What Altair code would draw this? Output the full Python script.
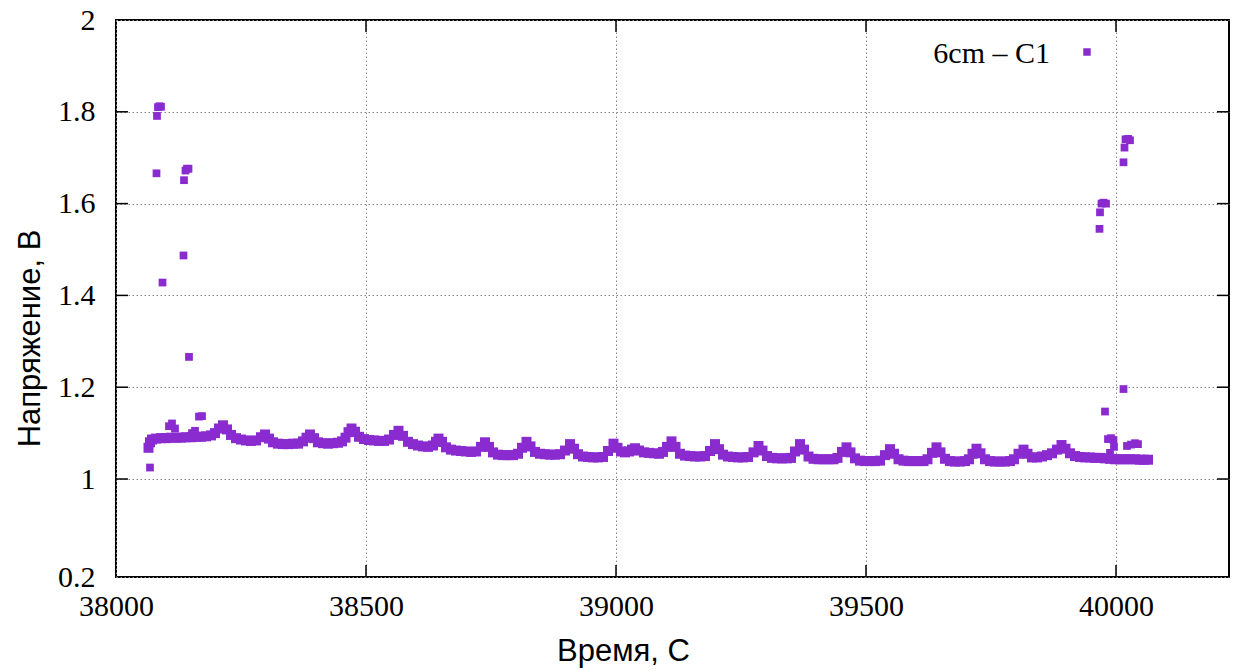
import altair as alt
import pandas as pd

# ---- data ----
T_MAIN = [38065, 38068, 38072, 38080, 38090, 38100, 38110, 38120, 38130, 38140, 38150, 38160, 38170, 38180, 38190,
          38198, 38206, 38214, 38222, 38230, 38240, 38250, 38260, 38270, 38280, 38290, 38298, 38306, 38314, 38324,
          38334, 38344, 38354, 38364, 38374, 38381, 38388, 38396, 38404, 38414, 38424, 38434, 38444, 38452, 38459,
          38465, 38471, 38478, 38486, 38496, 38506, 38516, 38526, 38536, 38546, 38556, 38565, 38574, 38584, 38594,
          38604, 38614, 38624, 38634, 38640, 38645, 38652, 38660, 38670, 38680, 38690, 38700, 38710, 38720, 38730,
          38738, 38746, 38754, 38764, 38774, 38784, 38794, 38804, 38812, 38821, 38829, 38838, 38848, 38858, 38868,
          38878, 38888, 38898, 38908, 38916, 38924, 38934, 38944, 38954, 38964, 38974, 38984, 38995, 39003, 39010,
          39018, 39026, 39032, 39038, 39046, 39056, 39066, 39076, 39086, 39094, 39102, 39111, 39119, 39128, 39138,
          39148, 39158, 39168, 39178, 39188, 39198, 39206, 39214, 39224, 39234, 39244, 39254, 39264, 39275, 39285,
          39293, 39302, 39312, 39322, 39332, 39342, 39350, 39358, 39368, 39376, 39385, 39395, 39405, 39415, 39425,
          39435, 39443, 39452, 39461, 39469, 39478, 39488, 39498, 39508, 39518, 39528, 39538, 39548, 39556, 39565,
          39575, 39585, 39595, 39605, 39615, 39623, 39632, 39641, 39649, 39658, 39668, 39678, 39688, 39698, 39706,
          39713, 39721, 39729, 39738, 39748, 39758, 39768, 39778, 39788, 39796, 39805, 39815, 39823, 39832, 39842,
          39852, 39862, 39872, 39882, 39891, 39899, 39908, 39918, 39928, 39938, 39948, 39958, 39968, 39978, 39988,
          39998, 40008, 40018, 40028, 40038, 40048, 40056, 40064]
V_MAIN = [1.068, 1.080, 1.086, 1.088, 1.089, 1.089, 1.090, 1.090, 1.090, 1.091, 1.091, 1.092, 1.092, 1.093, 1.095,
          1.100, 1.110, 1.117, 1.108, 1.096, 1.089, 1.086, 1.084, 1.083, 1.084, 1.091, 1.097, 1.088, 1.080, 1.077,
          1.076, 1.076, 1.077, 1.077, 1.082, 1.090, 1.097, 1.089, 1.080, 1.078, 1.077, 1.078, 1.079, 1.082, 1.090,
          1.102, 1.110, 1.103, 1.092, 1.087, 1.085, 1.084, 1.083, 1.083, 1.086, 1.096, 1.105, 1.094, 1.081, 1.076,
          1.073, 1.071, 1.070, 1.073, 1.081, 1.088, 1.081, 1.069, 1.064, 1.062, 1.061, 1.060, 1.059, 1.060, 1.070,
          1.080, 1.070, 1.058, 1.053, 1.052, 1.052, 1.052, 1.055, 1.068, 1.081, 1.071, 1.059, 1.055, 1.054, 1.053,
          1.053, 1.054, 1.062, 1.076, 1.066, 1.054, 1.049, 1.048, 1.047, 1.047, 1.048, 1.061, 1.077, 1.068, 1.060,
          1.058, 1.060, 1.064, 1.067, 1.062, 1.058, 1.057, 1.056, 1.055, 1.059, 1.070, 1.082, 1.070, 1.055, 1.051,
          1.050, 1.049, 1.049, 1.050, 1.061, 1.076, 1.065, 1.053, 1.049, 1.048, 1.047, 1.047, 1.048, 1.058, 1.072,
          1.062, 1.050, 1.046, 1.045, 1.045, 1.045, 1.046, 1.060, 1.076, 1.064, 1.049, 1.044, 1.043, 1.043, 1.043,
          1.043, 1.046, 1.059, 1.069, 1.058, 1.045, 1.040, 1.039, 1.039, 1.039, 1.040, 1.052, 1.065, 1.055, 1.043,
          1.040, 1.039, 1.039, 1.039, 1.039, 1.043, 1.057, 1.069, 1.058, 1.044, 1.039, 1.038, 1.038, 1.039, 1.043,
          1.055, 1.066, 1.056, 1.043, 1.039, 1.038, 1.038, 1.038, 1.039, 1.043, 1.055, 1.064, 1.055, 1.047, 1.047,
          1.049, 1.052, 1.056, 1.064, 1.074, 1.066, 1.056, 1.050, 1.048, 1.047, 1.047, 1.046, 1.046, 1.045, 1.044,
          1.043, 1.043, 1.043, 1.043, 1.043, 1.042, 1.042, 1.042]

T_SPIKE = [38068, 38081, 38082, 38084, 38087, 38090, 38093, 38106, 38112, 38118, 38135, 38136, 38139, 38142,
           38145, 38146, 38152, 38158, 38166, 38172,
           39967, 39968, 39971, 39975, 39978, 39980, 39984, 39988, 39990, 39995, 39996, 40015, 40015, 40017,
           40019, 40024, 40028, 40022, 40030, 40038, 40044]
V_SPIKE = [1.025, 1.666, 1.791, 1.810, 1.812, 1.811, 1.428, 1.115, 1.121, 1.110, 1.487, 1.651, 1.672, 1.676,
           1.676, 1.266, 1.100, 1.105, 1.136, 1.137,
           1.545, 1.581, 1.600, 1.602, 1.147, 1.600, 1.087, 1.057, 1.089, 1.085, 1.070, 1.196, 1.690, 1.722,
           1.740, 1.741, 1.738, 1.072, 1.075, 1.078, 1.076]

X_TICKS = [38000, 38500, 39000, 39500, 40000]
Y_TICKS = [0.7865, 1.0, 1.2, 1.4, 1.6, 1.8, 2.0]
Y_TICK_LABELS = ["0.2", "1", "1.2", "1.4", "1.6", "1.8", "2"]
X_DOMAIN = [38000, 40226]
Y_DOMAIN = [0.7865, 2.0]

X_TITLE = "Время, С"
Y_TITLE = "Напряжение, В"
LEGEND_LABEL = "6cm – C1"
COLOR = "#8a2bd0"

W, H = 1113, 557
SERIF = "Liberation Serif"
SANS = "Liberation Sans"

df_main = pd.DataFrame({"t": T_MAIN, "v": V_MAIN})
df_spike = pd.DataFrame({"t": T_SPIKE, "v": V_SPIKE})
xt = pd.DataFrame({"t": X_TICKS[1:]})
yt = pd.DataFrame({"v": Y_TICKS[1:-1]})

label_expr = "datum.label"
for v, l in zip(Y_TICKS, Y_TICK_LABELS):
    label_expr = f"abs(datum.value - {v}) < 1e-6 ? '{l}' : ({label_expr})"

xscale = alt.Scale(domain=X_DOMAIN, nice=False, zero=False)
yscale = alt.Scale(domain=Y_DOMAIN, nice=False, zero=False)

X = alt.X("t:Q", scale=xscale, title=X_TITLE,
          axis=alt.Axis(values=X_TICKS, format="d", grid=True, gridDash=[1.5, 2.5], gridColor="#888",
                        gridWidth=1, ticks=False, domain=False, labelFont=SERIF, labelFontSize=30,
                        labelColor="black", labelPadding=14, labelFlush=False, titleFont=SANS,
                        titleFontSize=31, titleFontWeight="normal", titleColor="black",
                        titleX=507, titleY=74, titleBaseline="middle", titleAnchor="middle"))
Y = alt.Y("v:Q", scale=yscale, title=Y_TITLE,
          axis=alt.Axis(values=Y_TICKS, grid=True, gridDash=[1.5, 2.5], gridColor="#888", gridWidth=1,
                        ticks=False, domain=False, labelFont=SERIF, labelFontSize=30, labelColor="black",
                        labelPadding=21, labelFlush=False, labelExpr=label_expr,
                        titleFont=SANS, titleFontSize=31, titleFontWeight="normal", titleColor="black",
                        titleX=-86, titleY=318, titleAngle=270, titleBaseline="middle", titleAnchor="middle"))

main = alt.Chart(df_main).mark_square(size=100, color=COLOR, opacity=1, strokeWidth=0).encode(x=X, y=Y)
spikes = alt.Chart(df_spike).mark_square(size=60, color=COLOR, opacity=1, strokeWidth=0).encode(x=X, y=Y)

tick_style = dict(color="black", strokeWidth=1.5)
bottom_ticks = alt.Chart(xt).mark_rule(**tick_style).encode(x=X, y=alt.value(H), y2=alt.value(H - 12))
top_ticks = alt.Chart(xt).mark_rule(**tick_style).encode(x=X, y=alt.value(0), y2=alt.value(12))
left_ticks = alt.Chart(yt).mark_rule(**tick_style).encode(y=Y, x=alt.value(0), x2=alt.value(12))
right_ticks = alt.Chart(yt).mark_rule(**tick_style).encode(y=Y, x=alt.value(W), x2=alt.value(W - 12))

leg = pd.DataFrame({"label": [LEGEND_LABEL]})
leg_text = alt.Chart(leg).mark_text(align="right", baseline="alphabetic", font=SERIF, fontSize=30,
                                    color="black").encode(x=alt.value(934), y=alt.value(43), text="label:N")
leg_sym = alt.Chart(leg).mark_square(size=56, color=COLOR, opacity=1, strokeWidth=0).encode(
    x=alt.value(971), y=alt.value(32))

chart = alt.layer(main, spikes, bottom_ticks, top_ticks, left_ticks, right_ticks, leg_text, leg_sym).properties(
    width=W, height=H,
    autosize=alt.AutoSizeParams(type="none"),
    padding={"left": 116, "top": 20, "right": 9, "bottom": 94},
    background="white",
).configure_view(stroke="black", strokeWidth=2)

chart.save("out.html", embed_options={"renderer": "svg", "actions": False})
